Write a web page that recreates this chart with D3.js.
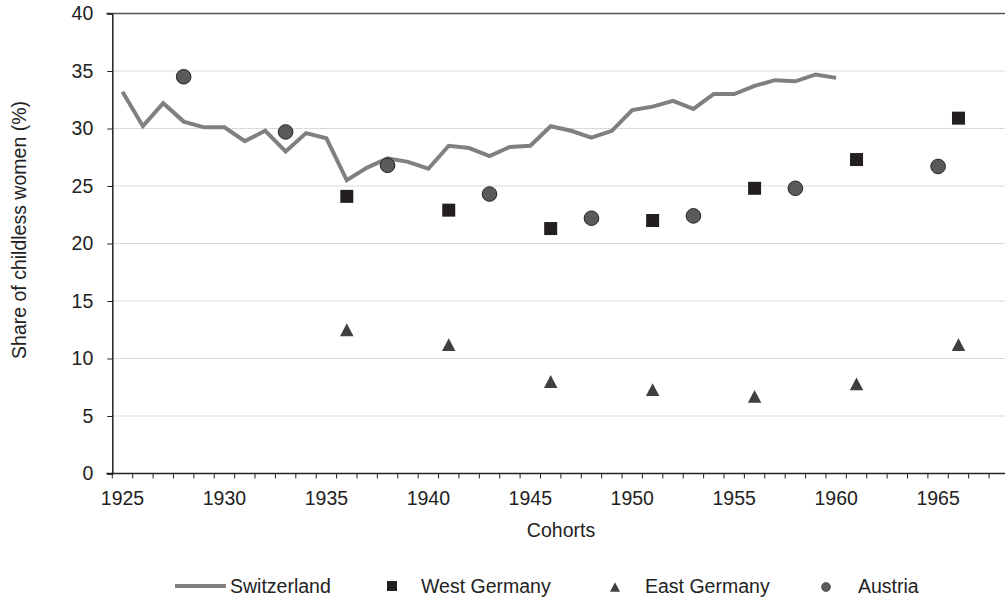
<!DOCTYPE html>
<html>
<head>
<meta charset="utf-8">
<script src="https://cdnjs.cloudflare.com/ajax/libs/d3/7.8.5/d3.min.js"></script>
<style>
  body { margin: 0; background: #fff; }
  svg { font-family: "Liberation Sans", Arial, sans-serif; }
</style>
</head>
<body>
<div id="chart"></div>
<script>
var svgWidth = 1005;
var svgHeight = 605;

// data
var years = d3.range(1925, 1969);
var swissYears = d3.range(1925, 1961);
var swissValues = [33.2, 30.2, 32.2, 30.6, 30.1, 30.1, 28.9, 29.8, 28.0, 29.6,
  29.15, 25.5, 26.6, 27.4, 27.1, 26.5, 28.5, 28.3, 27.6, 28.4,
  28.5, 30.2, 29.8, 29.2, 29.8, 31.6, 31.9, 32.4, 31.7, 33.0,
  33.0, 33.7, 34.2, 34.1, 34.7, 34.4];
var westYears = [1936, 1941, 1946, 1951, 1956, 1961, 1966];
var westValues = [24.1, 22.9, 21.3, 22.0, 24.8, 27.3, 30.9];
var eastYears = [1936, 1941, 1946, 1951, 1956, 1961, 1966];
var eastValues = [12.5, 11.2, 8.0, 7.3, 6.7, 7.8, 11.2];
var austriaYears = [1928, 1933, 1938, 1943, 1948, 1953, 1958, 1965];
var austriaValues = [34.5, 29.7, 26.8, 24.3, 22.2, 22.4, 24.8, 26.7];
var yTicks = [0, 5, 10, 15, 20, 25, 30, 35, 40];
var xLabels = [1925, 1930, 1935, 1940, 1945, 1950, 1955, 1960, 1965];

var plotLeft = 112.3, bandW = 20.39;
var plotTop = 13.5, plotBottom = 473.5;
var fontSize = "19.5px";

var svg = d3.select("#chart")
  .append("svg")
  .attr("width", svgWidth)
  .attr("height", svgHeight);

var x = d3.scaleBand()
  .domain(years)
  .range([plotLeft, plotLeft + years.length * bandW])
  .padding(0);

var y = d3.scaleLinear()
  .domain([0, 40])
  .range([plotBottom, plotTop]);

var cx = d => x(d) + x.bandwidth() / 2;

// triangle a bit taller than equilateral, like the original
var tallTriangle = {
  draw: function(ctx, size) {
    var w = Math.sqrt(size), h = w * 0.95;
    ctx.moveTo(0, -h / 2);
    ctx.lineTo(w / 2, h / 2);
    ctx.lineTo(-w / 2, h / 2);
    ctx.closePath();
  }
};

// gridlines
svg.append("g").selectAll("line")
  .data(yTicks.filter(d => d > 0 && d < 40))
  .enter().append("line")
  .attr("x1", plotLeft).attr("x2", svgWidth)
  .attr("y1", d => y(d)).attr("y2", d => y(d))
  .attr("stroke", "#b5b5b5")
  .attr("stroke-width", 1)
  .attr("stroke-dasharray", "1,1");

svg.append("line")
  .attr("x1", plotLeft - 6).attr("x2", svgWidth)
  .attr("y1", y(40)).attr("y2", y(40))
  .attr("stroke", "#555")
  .attr("stroke-width", 1.5);

// y axis
var yAxis = d3.axisLeft(y).tickValues(yTicks).tickSize(5).tickPadding(14);
var gy = svg.append("g")
  .attr("transform", `translate(${plotLeft}, 0)`)
  .call(yAxis);
gy.select(".domain").attr("stroke", "#222").attr("stroke-width", 1.5);
gy.selectAll(".tick line").attr("stroke", "#222");
gy.selectAll("text").attr("font-size", fontSize).attr("fill", "#222")
  .attr("font-family", "Liberation Sans, Arial, sans-serif");

// x axis: tick marks at band edges, labels at band centres
var gx = svg.append("g");
gx.append("line")
  .attr("x1", plotLeft - 6).attr("x2", svgWidth)
  .attr("y1", plotBottom).attr("y2", plotBottom)
  .attr("stroke", "#222").attr("stroke-width", 1.5);
gx.selectAll(".xt")
  .data(years)
  .enter().append("line")
  .attr("x1", d => x(d)).attr("x2", d => x(d))
  .attr("y1", plotBottom).attr("y2", plotBottom + 5)
  .attr("stroke", "#222");
gx.selectAll(".xl")
  .data(xLabels)
  .enter().append("text")
  .attr("x", d => cx(d))
  .attr("y", plotBottom + 31.5)
  .attr("text-anchor", "middle")
  .attr("font-size", fontSize)
  .attr("fill", "#222")
  .text(d => d);

// axis titles
svg.append("text")
  .attr("x", 561).attr("y", 537)
  .attr("text-anchor", "middle")
  .attr("font-size", fontSize).attr("fill", "#222")
  .text("Cohorts");

svg.append("text")
  .attr("transform", "rotate(-90)")
  .attr("x", -230).attr("y", 26)
  .attr("text-anchor", "middle")
  .attr("font-size", fontSize).attr("fill", "#222")
  .text("Share of childless women (%)");

// Switzerland line
var line = d3.line()
  .x((d, i) => cx(swissYears[i]))
  .y(d => y(d));
svg.append("path")
  .datum(swissValues)
  .attr("d", line)
  .attr("fill", "none")
  .attr("stroke", "#808080")
  .attr("stroke-width", 4)
  .attr("stroke-linejoin", "miter");

// West Germany squares
svg.selectAll(".west")
  .data(westValues)
  .enter().append("rect")
  .attr("x", (d, i) => cx(westYears[i]) - 6.5)
  .attr("y", d => y(d) - 6.5)
  .attr("width", 13).attr("height", 13)
  .attr("fill", "#231f20");

// East Germany triangles
var tri = d3.symbol().type(tallTriangle).size(13.5 * 13.5);
svg.selectAll(".east")
  .data(eastValues)
  .enter().append("path")
  .attr("d", tri)
  .attr("transform", (d, i) => `translate(${cx(eastYears[i])}, ${y(d)})`)
  .attr("fill", "#404040");

// Austria circles
svg.selectAll(".aut")
  .data(austriaValues)
  .enter().append("circle")
  .attr("cx", (d, i) => cx(austriaYears[i]))
  .attr("cy", d => y(d))
  .attr("r", 7.3)
  .attr("fill", "#5a5a5a")
  .attr("stroke", "#222")
  .attr("stroke-width", 1);

// legend
var ly = 586;
var legend = svg.append("g").attr("font-size", fontSize).attr("fill", "#222");
legend.append("line")
  .attr("x1", 175).attr("x2", 226).attr("y1", ly).attr("y2", ly)
  .attr("stroke", "#808080").attr("stroke-width", 4);
legend.append("text").attr("x", 230).attr("y", ly + 7).text("Switzerland");
legend.append("rect")
  .attr("x", 387).attr("y", ly - 5).attr("width", 10).attr("height", 10)
  .attr("fill", "#231f20");
legend.append("text").attr("x", 421).attr("y", ly + 7).text("West Germany");
legend.append("path")
  .attr("d", d3.symbol().type(tallTriangle).size(100))
  .attr("transform", `translate(615, ${ly + 1})`)
  .attr("fill", "#404040");
legend.append("text").attr("x", 645).attr("y", ly + 7).text("East Germany");
legend.append("circle")
  .attr("cx", 826).attr("cy", ly + 1).attr("r", 4.5)
  .attr("fill", "#5a5a5a").attr("stroke", "#222").attr("stroke-width", 0.5);
legend.append("text").attr("x", 858).attr("y", ly + 7).text("Austria");
</script>
</body>
</html>
